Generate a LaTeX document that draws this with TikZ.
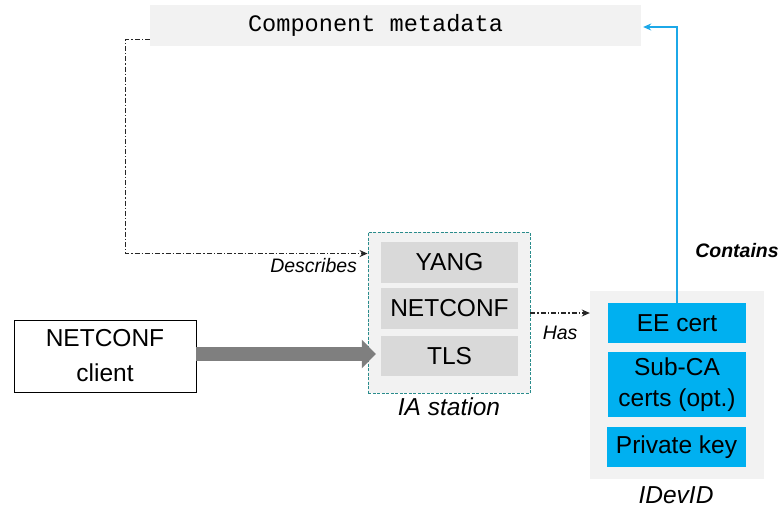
\documentclass[tikz,border=0pt]{standalone}
\usepackage{fontspec}
\setmainfont{Liberation Sans}
\setmonofont{Liberation Mono}
\usetikzlibrary{arrows.meta}
\definecolor{panel}{HTML}{F2F2F2}
\definecolor{layer}{HTML}{D9D9D9}
\definecolor{certblue}{HTML}{00B0F0}
\definecolor{linkblue}{HTML}{1CA8E8}
\definecolor{teal}{HTML}{2A8C8C}
\definecolor{pipe}{HTML}{7F7F7F}
\tikzset{
  box/.style={draw=none, minimum width=#1, inner sep=0pt, align=center, font=\fontsize{24.5}{30}\selectfont},
  layerbox/.style={box=137pt, fill=layer, minimum height=41pt},
  certbox/.style={box=138pt, fill=certblue, minimum height=40pt},
  caption/.style={inner sep=0pt, anchor=base, font=\fontsize{24.5}{30}\selectfont\itshape},
  edgelabel/.style={inner sep=0pt, anchor=base, font=\fontsize{19.5}{24}\selectfont\itshape},
  dashdotline/.style={draw=black!85, line width=1.1pt, dash pattern=on 5pt off 2pt on 1.3pt off 2pt,
    -{Stealth[length=8pt,width=7pt]}},
}
\begin{document}
\begin{tikzpicture}[x=1pt, y=-1pt]
\useasboundingbox (0,0) rectangle (781,507);

% metadata banner (text sits a little left of centre)
\node[box=491pt, fill=panel, minimum height=41pt] (meta) at (395.5,25.5) {};
\node[inner sep=0pt, font=\fontsize{23.6}{28}\ttfamily] (metatext) at (375.5,25.5) {Component metadata};

% IA station with its protocol stack
\node[draw=teal, dashed, dash pattern=on 3pt off 1.5pt, line width=0.9pt, fill=panel,
      minimum width=162pt, minimum height=161pt, inner sep=0pt] (ia) at (449,312.5) {};
\node[layerbox] (yang) at (449.5,262.5) {YANG};
\node[layerbox] (nc) at (449.5,308.5) {NETCONF};
\node[layerbox, minimum height=40pt] (tls) at (449.5,356) {TLS};
\node[caption] (iacap) at (449,415) {IA station};

% client
\node[box=182pt, draw=black, line width=0.9pt, fill=white, minimum height=72pt,
      font=\fontsize{24.5}{35}\selectfont] (client) at (105,356) {NETCONF\\client};

% IDevID credential set
\node[fill=panel, minimum width=174pt, minimum height=188pt, inner sep=0pt] (idev) at (677,385) {};
\node[certbox] (ee) at (677,323) {EE cert};
\node[certbox, minimum height=65pt, font=\fontsize{24.5}{31}\selectfont] (subca) at (677,384.5) {Sub-CA\\certs (opt.)};
\node[certbox, minimum width=139pt] (key) at (676.5,447) {Private key};
\node[caption] (idcap) at (676,503) {IDevID};

% connectors
\draw[line width=14pt, pipe, -{Triangle[length=14pt,width=28pt]}, shorten >=5pt]
  ([yshift=2pt]client.east) -- ([yshift=2pt]client.east -| tls.west);

\draw[dashdotline] ([yshift=7pt]meta.south west) -- ++(-24,0) |- ([yshift=-22pt]ia.north west)
  node[edgelabel, anchor=base east, pos=1, xshift=-10pt, yshift=-19pt] (desc) {Describes};

\draw[dashdotline] ([yshift=-0.5pt]ia.east) -- ([yshift=-0.5pt]ia.east -| idev.west)
  node[edgelabel, pos=0.5, yshift=-26pt] (has) {Has};

\draw[linkblue, line width=1.1pt, -{Stealth[length=8pt,width=7pt]}, shorten >=2pt]
  (ee.north) |- ([yshift=-1.5pt]meta.east);
\node[edgelabel, font=\fontsize{19.5}{24}\selectfont\bfseries\itshape] (cont) at (737,257) {Contains};
\end{tikzpicture}
\end{document}
